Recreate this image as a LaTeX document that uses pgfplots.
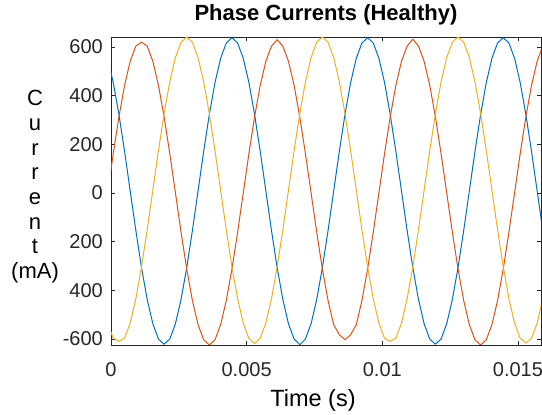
\documentclass[border=0pt]{standalone}
\usepackage{fontspec}
\setmainfont{Liberation Sans}
\usepackage{pgfplots}
\usepackage{pgfplotstable}
\pgfplotsset{compat=1.18}
\definecolor{mblue}{rgb}{0,0.447,0.741}
\definecolor{mred}{rgb}{0.850,0.325,0.098}
\definecolor{myellow}{rgb}{0.929,0.694,0.125}
\definecolor{axgray}{gray}{0.15}
\pgfplotstableread{
t a b c
-0.0001250 0 -534.6 553.6
0.0000833 161.8 -597.5 453.5
0.0002917 312.5 -610 323
0.0005000 441.9 -597.5 171.1
0.0007083 541.3 -534.6 8
0.0009167 603.7 -434.5 -155.1
0.0011250 620 -304 -307
0.0013333 603.7 -152.1 -437.5
0.0015417 541.3 11 -537.6
0.0017500 441.9 174.1 -600.5
0.0019583 312.5 326 -622
0.0021667 161.8 456.5 -600.5
0.0023750 0 556.6 -537.6
0.0025833 -161.8 619.5 -437.5
0.0027917 -312.5 641 -307
0.0030000 -441.9 619.5 -155.1
0.0032083 -541.3 556.6 8
0.0034167 -603.7 456.5 171.1
0.0036250 -625 326 323
0.0038333 -603.7 174.1 453.5
0.0040417 -541.3 11 553.6
0.0042500 -441.9 -152.1 616.5
0.0044583 -312.5 -304 638
0.0046667 -161.8 -434.5 616.5
0.0048750 0 -534.6 553.6
0.0050833 161.8 -597.5 453.5
0.0052917 312.5 -619 323
0.0055000 441.9 -597.5 171.1
0.0057083 541.3 -534.6 8
0.0059167 603.7 -434.5 -155.1
0.0061250 630 -304 -307
0.0063333 603.7 -152.1 -437.5
0.0065417 541.3 11 -537.6
0.0067500 441.9 174.1 -600.5
0.0069583 312.5 326 -624
0.0071667 161.8 456.5 -600.5
0.0073750 0 556.6 -537.6
0.0075833 -161.8 619.5 -437.5
0.0077917 -312.5 641 -307
0.0080000 -441.9 619.5 -155.1
0.0082083 -541.3 556.6 8
0.0084167 -583 456.5 171.1
0.0086250 -603 326 323
0.0088333 -583 174.1 453.5
0.0090417 -541.3 11 553.6
0.0092500 -441.9 -152.1 616.5
0.0094583 -312.5 -304 638
0.0096667 -161.8 -434.5 616.5
0.0098750 0 -534.6 553.6
0.0100833 161.8 -597.5 453.5
0.0102917 312.5 -610 323
0.0105000 441.9 -597.5 171.1
0.0107083 541.3 -534.6 8
0.0109167 603.7 -434.5 -155.1
0.0111250 632 -304 -307
0.0113333 603.7 -152.1 -437.5
0.0115417 541.3 11 -537.6
0.0117500 441.9 174.1 -600.5
0.0119583 312.5 326 -622
0.0121667 161.8 456.5 -600.5
0.0123750 0 556.6 -537.6
0.0125833 -161.8 619.5 -437.5
0.0127917 -312.5 641 -307
0.0130000 -441.9 619.5 -155.1
0.0132083 -541.3 556.6 8
0.0134167 -603.7 456.5 171.1
0.0136250 -625 326 323
0.0138333 -603.7 174.1 453.5
0.0140417 -541.3 11 553.6
0.0142500 -441.9 -152.1 616.5
0.0144583 -312.5 -304 638
0.0146667 -161.8 -434.5 616.5
0.0148750 0 -534.6 553.6
0.0150833 161.8 -597.5 453.5
0.0152917 312.5 -617 323
0.0155000 441.9 -597.5 171.1
0.0157083 541.3 -534.6 8
0.0159167 603.7 -434.5 -155.1
}\data
\begin{document}
\begin{tikzpicture}
\path[use as bounding box] (0pt,0pt) rectangle (542pt,415pt);
\begin{axis}[
  at={(111pt,70pt)}, anchor=south west,
  width=430pt, height=308pt, scale only axis,
  xmin=0, xmax=0.01585, ymin=-625, ymax=641,
  xtick={0,0.005,0.01,0.015}, xticklabels={0,0.005,0.01,0.015},
  ytick={-600,-400,-200,0,200,400,600},
  yticklabels={-600,400,200,0,200,400,600},
  scaled x ticks=false, scaled y ticks=false,
  tick align=inside, major tick length=4.3pt,
  axis line style={color=axgray, line width=0.6pt},
  every tick/.style={color=axgray, line width=0.6pt},
  /pgf/number format/assume math mode=true,
  tick label style={font=\fontsize{20}{24}\selectfont, text=axgray},
  xticklabel style={anchor=north, inner sep=0pt, yshift=-17pt},
  yticklabel style={anchor=east, inner sep=0pt, xshift=-8pt},
  title={Phase Currents (Healthy)},
  title style={at={(axis description cs:0.5,1)}, anchor=base, yshift=10pt, font=\bfseries\fontsize{22}{26}\selectfont},
  xlabel={Time (s)},
  xlabel style={at={(axis description cs:0.5,0)}, anchor=base, yshift=-62pt, xshift=-13pt, font=\fontsize{23.5}{28}\selectfont},
  ylabel={C\\u\\r\\r\\e\\n\\t\\(mA)},
  ylabel style={rotate=-90, align=center, at={(axis description cs:-0.1767,0.5136)}, anchor=center, font=\fontsize{22}{24.7}\selectfont},
]
\addplot[mblue, line width=1pt, line join=round] table[x=t, y=c]{\data};
\addplot[mred, line width=1pt, line join=round] table[x=t, y=a]{\data};
\addplot[myellow, line width=1pt, line join=round] table[x=t, y=b]{\data};
\end{axis}
\end{tikzpicture}
\end{document}
